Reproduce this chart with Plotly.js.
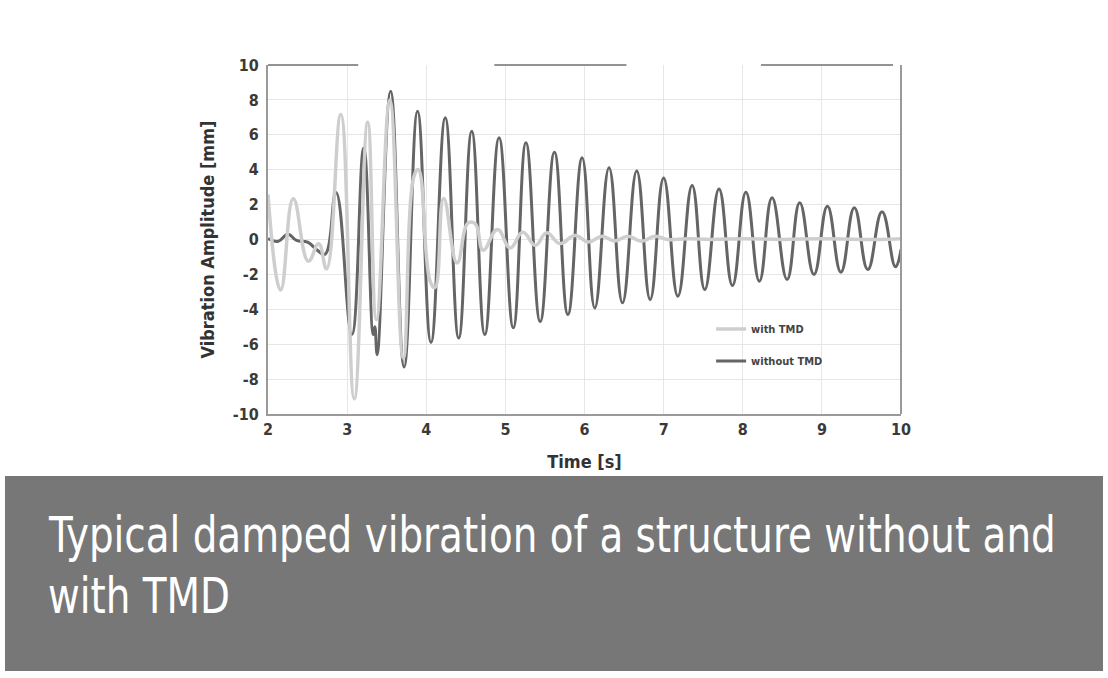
<!DOCTYPE html>
<html>
<head>
<meta charset="utf-8">
<script src="https://cdn.plot.ly/plotly-3.0.1.min.js"></script>
<style>
  html, body { margin: 0; padding: 0; background: #ffffff; }
  #chart { width: 1108px; height: 678px; }
  .caption-narrow { transform-box: fill-box; transform-origin: 0% 50%; transform: scaleX(0.864); }
</style>
</head>
<body>
<div id="chart"></div>
<script>
// Time [s] and amplitude [mm] (extrema of each swing)
const timeWithout = [2.00, 2.13, 2.25, 2.36, 2.50, 2.62, 2.72, 2.86, 3.06, 3.21, 3.33, 3.35, 3.38, 3.55, 3.72, 3.89, 4.06, 4.24, 4.41, 4.575, 4.74, 4.92, 5.10, 5.26, 5.44, 5.62, 5.79, 5.97, 6.13, 6.31, 6.48, 6.66, 6.83, 7.00, 7.18, 7.36, 7.52, 7.70, 7.87, 8.04, 8.21, 8.37, 8.56, 8.72, 8.90, 9.07, 9.24, 9.41, 9.58, 9.76, 9.93, 10.0];
const ampWithout = [0.05, -0.1, 0.3, -0.05, -0.15, -0.6, -0.85, 2.7, -5.45, 5.25, -5.45, -5.0, -6.6, 8.5, -7.3, 7.35, -5.9, 6.97, -5.65, 6.2, -5.45, 5.83, -5.06, 5.54, -4.7, 5.0, -4.3, 4.68, -3.92, 4.11, -3.63, 3.92, -3.44, 3.53, -3.25, 3.1, -2.87, 2.9, -2.64, 2.71, -2.39, 2.39, -2.29, 2.1, -2.0, 1.91, -1.87, 1.82, -1.72, 1.59, -1.56, -0.57];

const timeWith = [2.00, 2.16, 2.32, 2.51, 2.64, 2.74, 2.92, 3.09, 3.26, 3.37, 3.54, 3.71, 3.85, 3.90, 4.05, 4.11, 4.22, 4.39, 4.53, 4.62, 4.72, 4.90, 5.06, 5.22, 5.38, 5.52, 5.69, 5.88, 6.05, 6.22, 6.38, 6.55, 6.72, 6.89, 7.05, 7.30, 7.60, 8.00, 8.50, 9.00, 9.50, 10.0];
const ampWith = [2.58, -2.9, 2.33, -1.24, -0.25, -1.68, 7.16, -9.13, 6.72, -4.6, 8.0, -6.8, 3.7, 4.0, -2.4, -2.75, 2.35, -1.34, 0.95, 0.9, -0.61, 0.57, -0.48, 0.42, -0.34, 0.38, -0.23, 0.23, -0.15, 0.19, -0.08, 0.19, -0.1, 0.19, 0.0, 0.05, 0.0, 0.05, 0.0, 0.05, 0.0, 0.05];

const seriesNames = ['with TMD', 'without TMD'];
const xTicks = [2, 3, 4, 5, 6, 7, 8, 9, 10];
const yTicks = [-10, -8, -6, -4, -2, 0, 2, 4, 6, 8, 10];
const topEdgeSegments = [[2, 3.14], [4.86, 6.53], [8.23, 9.9]];
const captionLines = ['Typical damped vibration of a structure without and', 'with TMD'];

const narrowBold = "'Liberation Sans Narrow', 'Arial Narrow', 'DejaVu Sans Condensed', sans-serif";

const traces = [
  {
    x: timeWithout, y: ampWithout, name: seriesNames[1], type: 'scatter', mode: 'lines',
    line: { color: '#656565', width: 3, shape: 'spline', smoothing: 1.3 },
    legendrank: 2
  },
  {
    x: timeWith, y: ampWith, name: seriesNames[0], type: 'scatter', mode: 'lines',
    line: { color: '#cecece', width: 3.5, shape: 'spline', smoothing: 1.3 },
    legendrank: 1
  }
];

const shapes = topEdgeSegments.map(s => ({
  type: 'line', xref: 'x', yref: 'paper', x0: s[0], x1: s[1], y0: 1, y1: 1,
  line: { color: '#939393', width: 2 }
}));
shapes.push({ type: 'line', xref: 'paper', yref: 'paper', x0: 1, x1: 1, y0: 0, y1: 1,
  line: { color: '#9a9a9a', width: 2 } });
shapes.push({ type: 'rect', xref: 'paper', yref: 'paper', x0: -0.4155, x1: 1.3191, y0: -0.7364, y1: -0.1777,
  fillcolor: '#777777', line: { width: 0 }, layer: 'above' });

const annotations = [
  { text: captionLines[0], xref: 'paper', yref: 'paper', x: -0.3505, y: -0.3453, xanchor: 'left', yanchor: 'middle',
    showarrow: false, font: { family: narrowBold, size: 50, color: '#ffffff' } },
  { text: captionLines[1], xref: 'paper', yref: 'paper', x: -0.3505, y: -0.5229, xanchor: 'left', yanchor: 'middle',
    showarrow: false, font: { family: narrowBold, size: 50, color: '#ffffff' } }
];

const layout = {
  width: 1108, height: 678,
  margin: { l: 268, r: 207, t: 65, b: 264 },
  paper_bgcolor: '#ffffff', plot_bgcolor: '#ffffff',
  showlegend: true,
  legend: {
    x: 0.700, y: 0.285, xanchor: 'left', yanchor: 'top',
    bgcolor: 'rgba(0,0,0,0)', borderwidth: 0,
    font: { family: narrowBold, size: 11, color: '#444444', weight: 'bold' },
    itemwidth: 30, tracegroupgap: 13, traceorder: 'grouped'
  },
  xaxis: {
    range: [2, 10], tickvals: xTicks, ticktext: xTicks.map(String),
    showgrid: true, gridcolor: '#e6e6e6', gridwidth: 1, zeroline: false,
    showline: true, linecolor: '#9a9a9a', linewidth: 2, ticks: '',
    tickfont: { family: narrowBold, size: 16, color: '#3a3a3a', weight: 'bold' },
    title: { text: 'Time [s]', font: { family: narrowBold, size: 18, color: '#333333', weight: 'bold' }, standoff: 17 }
  },
  yaxis: {
    range: [-10, 10], tickvals: yTicks, ticktext: yTicks.map(String),
    showgrid: true, gridcolor: '#e6e6e6', gridwidth: 1, zeroline: false,
    showline: true, linecolor: '#9a9a9a', linewidth: 2, ticks: '', ticklabelstandoff: 4,
    tickfont: { family: narrowBold, size: 16, color: '#3a3a3a', weight: 'bold' },
    title: { text: 'Vibration Amplitude [mm]', font: { family: narrowBold, size: 18, color: '#333333', weight: 'bold' }, standoff: 13 }
  },
  shapes: shapes,
  annotations: annotations
};

traces.forEach((t, i) => { t.legendgroup = 'g' + i; });

Plotly.newPlot('chart', traces, layout, { displayModeBar: false, staticPlot: true }).then(gd => {
  gd.querySelectorAll('text.annotation-text').forEach(el => el.classList.add('caption-narrow'));
});
</script>
</body>
</html>
